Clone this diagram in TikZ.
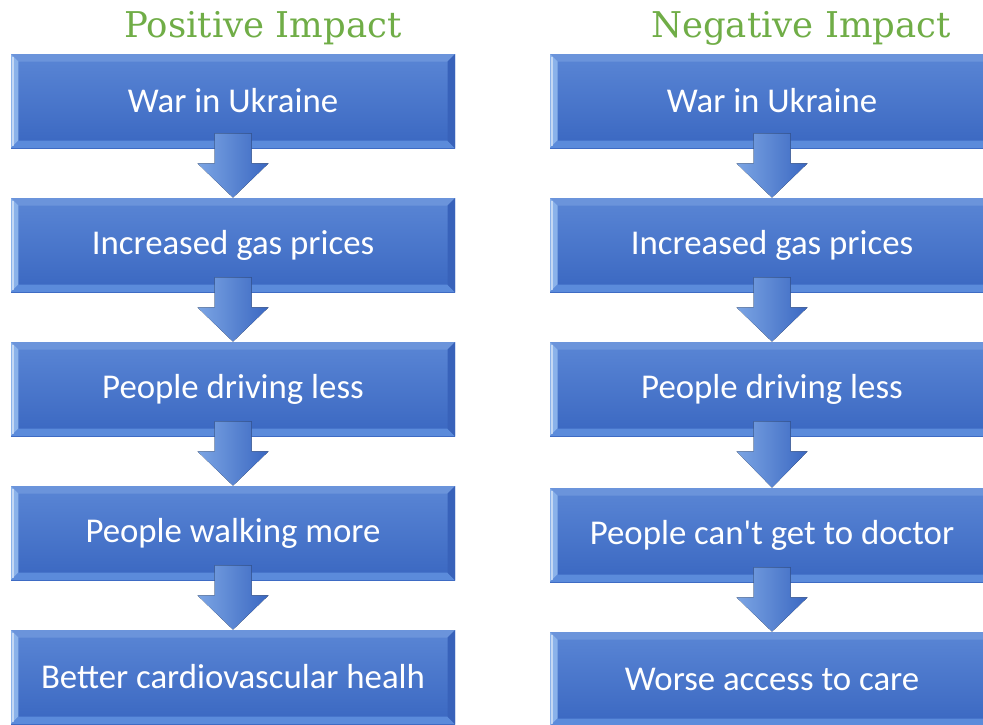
\documentclass[tikz,border=0pt]{standalone}
\usepackage{fontspec}
\setmainfont{Carlito}
\newfontfamily\titlefont{DejaVu Serif}
\usepackage{tikz}
\usetikzlibrary{calc}

\definecolor{boxtop}{HTML}{5A86D5}
\definecolor{boxbot}{HTML}{3A67C1}
\definecolor{bevtop}{HTML}{6B94DB}
\definecolor{bevleft}{HTML}{8AB2EA}
\definecolor{bevbot}{HTML}{5B8BDB}
\definecolor{bevright}{HTML}{3862BA}
\definecolor{titlegreen}{HTML}{70AD47}

\begin{document}
\begin{tikzpicture}[
    stepbox/.style={minimum width=8.88cm, minimum height=1.88cm, inner sep=0pt,
        top color=boxtop, bottom color=boxbot, text=white,
        font=\fontsize{19.8}{23}\selectfont,
        path picture={
            \coordinate (nw) at (path picture bounding box.north west);
            \coordinate (se) at (path picture bounding box.south east);
            \fill[bevtop] (nw) -- (nw-|se) -- ($(nw-|se)+(-0.15,-0.15)$) -- ($(nw)+(0.15,-0.15)$) -- cycle;
            \fill[bevleft] (nw) -- ($(nw)+(0.15,-0.15)$) -- ($(nw|-se)+(0.15,0.15)$) -- (nw|-se) -- cycle;
            \fill[bevbot] (nw|-se) -- ($(nw|-se)+(0.15,0.15)$) -- ($(se)+(-0.15,0.15)$) -- (se) -- cycle;
            \fill[bevright] (se) -- ($(se)+(-0.15,0.15)$) -- ($(nw-|se)+(-0.15,-0.15)$) -- (nw-|se) -- cycle;
            \draw[white, opacity=0.5, line width=0.6pt] ($(nw)+(0.04,-0.05)$) -- ($(nw|-se)+(0.04,0.05)$);
        }},
    titletext/.style={text=titlegreen, font=\titlefont\fontsize{20.2}{24}\selectfont},
    arrowfill/.style={left color=bevleft!70!boxtop, right color=boxbot}
]
    % fix the frame
    \useasboundingbox (0,0) rectangle (19.66,-14.48);

    % titles
    \node[titletext] (posT) at (5.26,-0.56) {Positive Impact};
    \node[titletext] (negT) at (16.02,-0.56) {Negative Impact};

    % left column
    \node[stepbox] (p1) at (4.66,-2.02) {War in Ukraine};
    \node[stepbox] (p2) at (4.66,-4.90) {Increased gas prices};
    \node[stepbox] (p3) at (4.66,-7.78) {People driving less};
    \node[stepbox] (p4) at (4.66,-10.66) {People walking more};
    \node[stepbox] (p5) at (4.66,-13.54) {Better cardiovascular healh};

    % right column
    \node[stepbox] (n1) at (15.44,-2.02) {War in Ukraine};
    \node[stepbox] (n2) at (15.44,-4.90) {Increased gas prices};
    \node[stepbox] (n3) at (15.44,-7.78) {People driving less};
    \node[stepbox] (n4) at (15.44,-10.70) {People can\textquotesingle t get to doctor};
    \node[stepbox] (n5) at (15.44,-13.58) {Worse access to care};

    % draw block arrows
    \foreach \a/\b in {p1/p2,p2/p3,p3/p4,p4/p5,n1/n2,n2/n3,n3/n4,n4/n5}{
        \fill[arrowfill] ($(\a.south)+(-0.37,0.3)$) -- ($(\a.south)+(0.37,0.3)$)
            -- ($(\a.south)+(0.37,-0.3)$) -- ($(\a.south)+(0.71,-0.3)$)
            -- (\b.north) -- ($(\a.south)+(-0.71,-0.3)$)
            -- ($(\a.south)+(-0.37,-0.3)$) -- cycle;
    }
\end{tikzpicture}
\end{document}
